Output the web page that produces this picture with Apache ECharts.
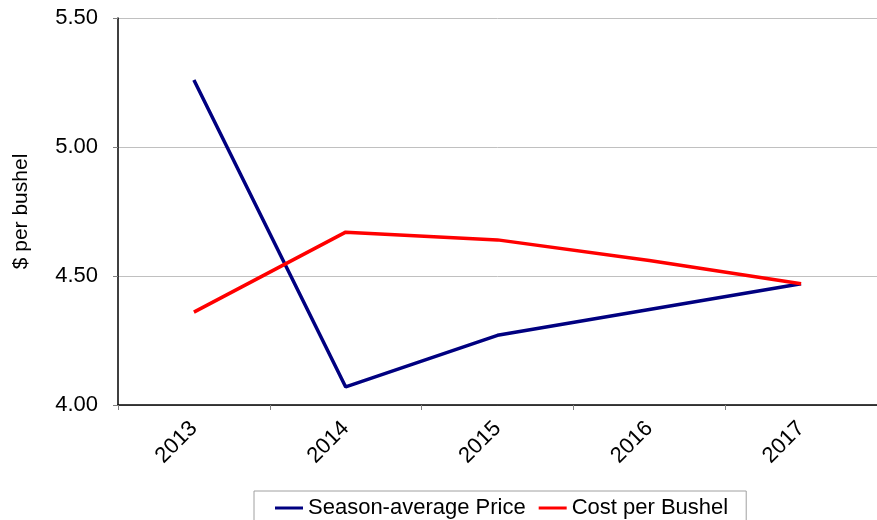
<!DOCTYPE html>
<html>
<head>
<meta charset="utf-8">
<script src="https://cdn.jsdelivr.net/npm/echarts@6/dist/echarts.min.js"></script>
<style>
  html, body { margin: 0; padding: 0; background: #ffffff; }
  #chart { width: 877px; height: 520px; }
</style>
</head>
<body>
<div id="chart"></div>
<script>
// Marketing years on the category axis
const years = ['2013', '2014', '2015', '2016', '2017'];
// $ per bushel
const seasonAveragePrice = [5.26, 4.07, 4.27, 4.37, 4.47];
const costPerBushel = [4.36, 4.67, 4.64, 4.56, 4.47];
// Value axis ticks
const yTicks = [4.0, 4.5, 5.0, 5.5];

const font = 'Liberation Sans, Arial, sans-serif';

const chart = echarts.init(document.getElementById('chart'), null, { renderer: 'canvas' });

chart.setOption({
  backgroundColor: '#ffffff',
  animation: false,
  grid: { left: 118, right: -7, top: 18, bottom: 115 },
  legend: {
    left: 254,
    top: 491,
    padding: [6, 18, 8, 21],
    borderColor: '#a0a0a0',
    borderWidth: 1,
    itemGap: 13,
    itemWidth: 28,
    itemHeight: 3,
    icon: 'rect',
    textStyle: { fontFamily: font, fontSize: 22, color: '#000000' },
    data: ['Season-average Price', 'Cost per Bushel']
  },
  xAxis: {
    type: 'category',
    data: years,
    boundaryGap: true,
    axisLine: { lineStyle: { color: '#000000', width: 1.5 } },
    axisTick: { show: true, length: 5, lineStyle: { color: '#808080' } },
    axisLabel: {
      rotate: 45,
      margin: 20,
      fontFamily: font,
      fontSize: 22,
      color: '#000000'
    }
  },
  yAxis: {
    type: 'value',
    min: yTicks[0],
    max: yTicks[yTicks.length - 1],
    interval: 0.5,
    name: '$ per bushel',
    nameLocation: 'middle',
    nameGap: 86,
    nameRotate: 90,
    nameTextStyle: { fontFamily: font, fontSize: 21, color: '#000000' },
    axisLine: { show: true, lineStyle: { color: '#000000', width: 1.5 } },
    axisTick: { show: true, length: 5, lineStyle: { color: '#808080' } },
    axisLabel: {
      margin: 20,
      fontFamily: font,
      fontSize: 22,
      color: '#000000',
      formatter: v => v.toFixed(2)
    },
    splitLine: { show: true, lineStyle: { color: '#c0c0c0', width: 1 } }
  },
  series: [
    {
      name: 'Season-average Price',
      type: 'line',
      data: seasonAveragePrice,
      showSymbol: false,
      symbol: 'none',
      color: '#000080',
      lineStyle: { color: '#000080', width: 3.5 }
    },
    {
      name: 'Cost per Bushel',
      type: 'line',
      data: costPerBushel,
      showSymbol: false,
      symbol: 'none',
      color: '#ff0000',
      lineStyle: { color: '#ff0000', width: 3.5 }
    }
  ]
});
</script>
</body>
</html>
